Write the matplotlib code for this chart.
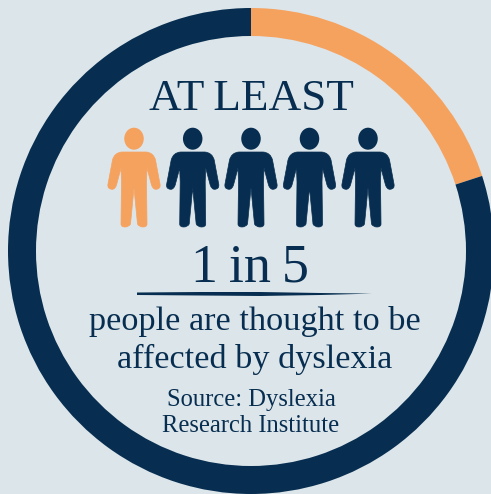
import matplotlib
matplotlib.use("Agg")
import matplotlib.pyplot as plt
from matplotlib.patches import Ellipse, PathPatch, Polygon
from matplotlib.path import Path

W, H = 491, 494
BG = "#dce5ea"
NAVY = "#072e50"
ORANGE = "#f6a25f"

ring_share = [20, 80]
people_highlighted = [True, False, False, False, False]
people_x = [134, 192.7, 251, 309.5, 368]


def person(ax, cx, color):
    # outline in pixels relative to the centre line of the person
    top = H - 152
    ax.add_patch(Ellipse((cx, H - 138.7), 19.5, 22, color=color, lw=0))
    M, L, C, Z = Path.MOVETO, Path.LINETO, Path.CURVE3, Path.CLOSEPOLY
    half = [
        (0, 0), (12, 0), (19.5, 0.5), (21.5, 8),
        (26, 32), (27, 37), (22, 37.3), (19, 37.5), (17.5, 33),
        (13, 16), (12.5, 30), (13, 72), (13, 75), (9, 75), (5, 75), (3.5, 72),
        (0, 36),
    ]
    codes_half = [M, L, C, C, L, C, C, C, C, L, L, L, C, C, C, C, L]
    right = [(cx + x, top - y) for x, y in half]
    left = [(cx - x, top - y) for x, y in half[::-1]]
    # mirror walks back over the same curves, so control points stay valid
    codes_left = codes_half[::-1][:-1]
    verts = right + left[1:] + [right[0]]
    codes = codes_half + codes_left + [Z]
    ax.add_patch(PathPatch(Path(verts, codes), facecolor=color, edgecolor=color, lw=0.5))


fig = plt.figure(figsize=(W / 100, H / 100), dpi=100, facecolor=BG)
ax = fig.add_axes([0, 0, 1, 1])

ax.pie(ring_share, colors=[ORANGE, NAVY], startangle=90, counterclock=False,
       center=(251, H - 251), radius=243, wedgeprops=dict(width=28, linewidth=0),
       frame=True)
ax.set_xlim(0, W)
ax.set_ylim(0, H)
ax.set_aspect("auto")
ax.axis("off")

for x, on in zip(people_x, people_highlighted):
    person(ax, x, ORANGE if on else NAVY)

# hand brushed rule under the number
rule = [(137, 292.5), (200, 292), (260, 292), (320, 293), (372, 293.6),
        (320, 295), (260, 296), (200, 295.5), (137, 295)]
ax.add_patch(Polygon([(x, H - y) for x, y in rule], color=NAVY, lw=0))

serif = ["Liberation Serif", "DejaVu Serif"]
thin = "\u2009"
ax.text(251, H - 110, "AT" + thin + "LEAST", family=serif, fontsize=32.5, color=NAVY, ha="center", va="baseline")
ax.text(250, H - 281, "1" + thin + "in" + thin + "5", family=serif, fontsize=39, color=NAVY, ha="center", va="baseline")
ax.text(254.5, H - 330, "people are thought to be", family=serif, fontsize=24.7, color=NAVY, ha="center", va="baseline")
ax.text(254.5, H - 368, "affected by dyslexia", family=serif, fontsize=24.7, color=NAVY, ha="center", va="baseline")
ax.text(251.5, H - 405.5, "Source: Dyslexia", family=serif, fontsize=17.7, color=NAVY, ha="center", va="baseline")
ax.text(251, H - 432, "Research Institute", family=serif, fontsize=17.7, color=NAVY, ha="center", va="baseline")

fig.savefig("out.png", dpi=100, facecolor=BG)
